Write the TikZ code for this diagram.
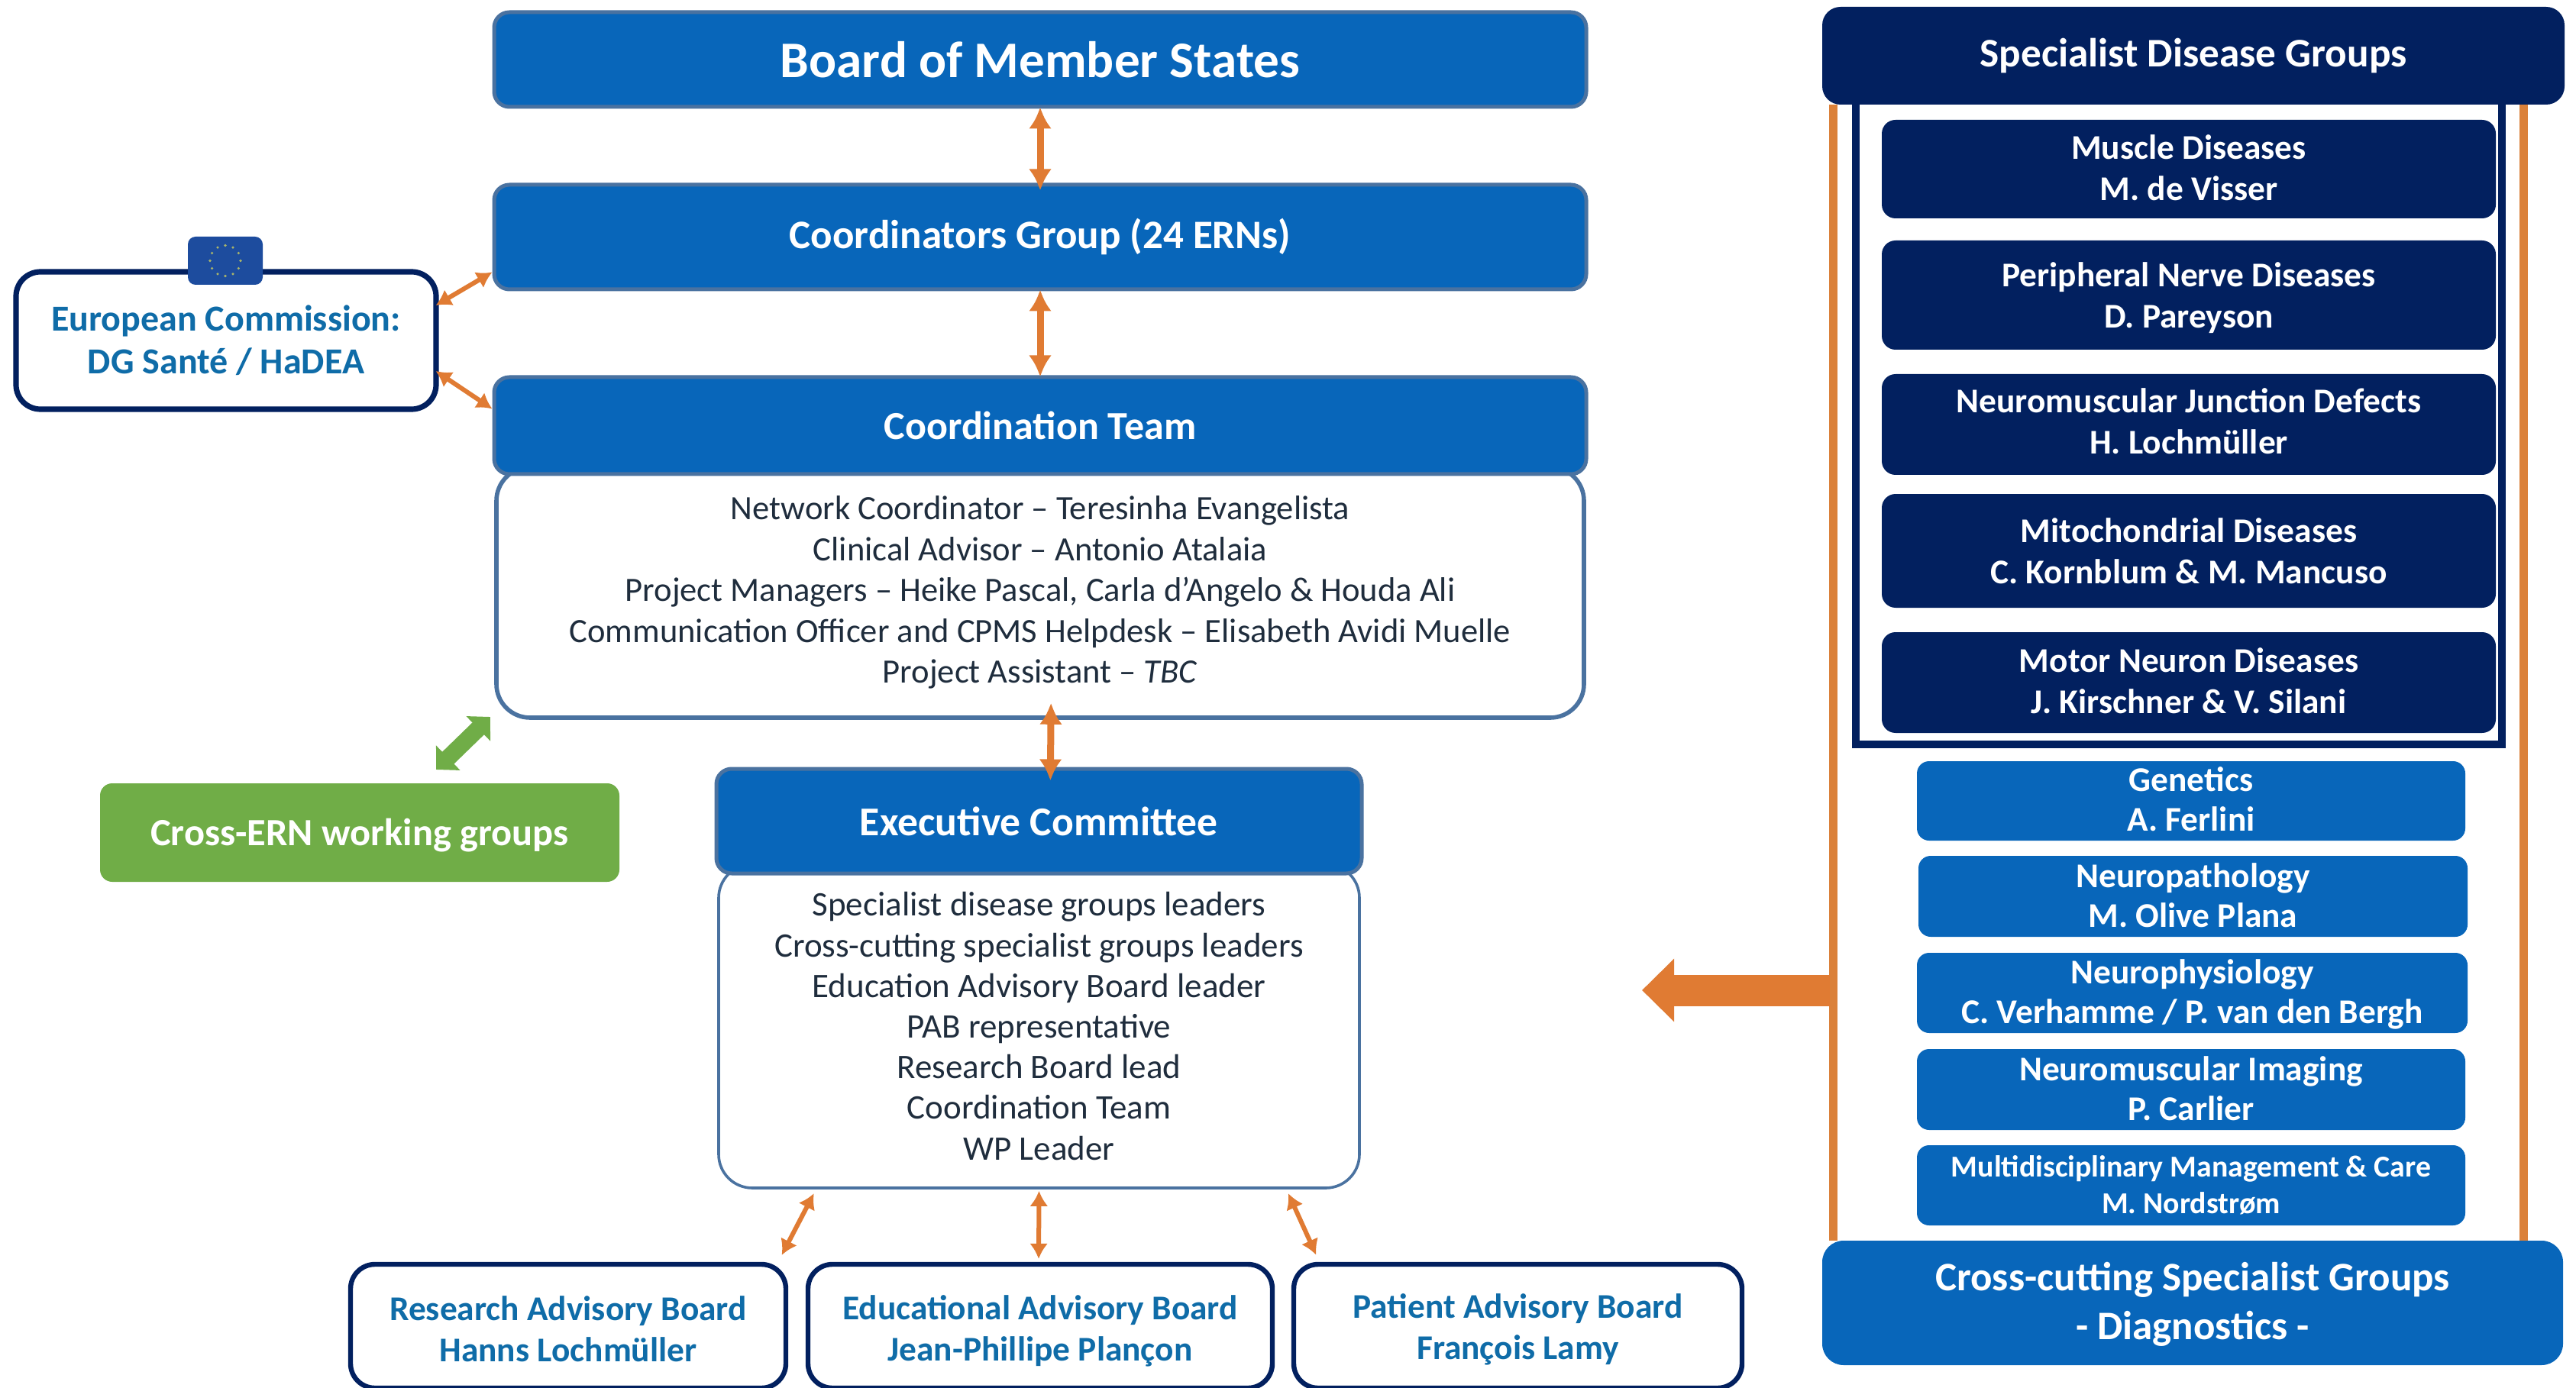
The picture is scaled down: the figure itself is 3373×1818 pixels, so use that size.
\documentclass[tikz,border=0pt]{standalone}
\usepackage{fontspec}
\setmainfont{Carlito}
\usetikzlibrary{arrows.meta,calc}
\definecolor{bluebox}{HTML}{0866BA}
\definecolor{navybox}{HTML}{02205F}
\definecolor{edgeblue}{HTML}{4A72A0}
\definecolor{orangeln}{HTML}{E07B33}
\definecolor{orangebar}{HTML}{DB813A}
\definecolor{greenbox}{HTML}{70AD47}
\definecolor{textdark}{HTML}{1F2D3D}
\definecolor{texttile}{HTML}{0F6CA8}
\definecolor{flagblue}{HTML}{1D4C9E}
\definecolor{flagstar}{HTML}{A9B46A}
\newcommand\hup[1]{\rule{0pt}{#1pt}}
\newcommand\ddn[1]{\rule[-#1pt]{0pt}{0pt}}
\tikzset{
  x=0.5pt,y=-0.5pt,
  bf/.style n args={2}{font=\fontsize{#1}{#2}\selectfont\bfseries},
  rm/.style n args={2}{font=\fontsize{#1}{#2}\selectfont},
  base/.style={inner sep=0pt,align=center,rounded corners=10pt},
  bluehead/.style={base,fill=bluebox,draw=edgeblue,line width=2.5pt,text=white},
  bluetile/.style={base,fill=bluebox,text=white,rounded corners=8pt},
  navytile/.style={base,fill=navybox,text=white,rounded corners=9pt},
  bodybox/.style={base,fill=white,draw=edgeblue,line width=2.8pt,text=textdark,rounded corners=22pt},
  boardbox/.style={base,fill=white,draw=navybox,line width=3.2pt,text=texttile,rounded corners=16pt},
  greentile/.style={base,fill=greenbox,text=white,rounded corners=8pt},
  flagtile/.style={base,fill=flagblue,rounded corners=5pt},
  link/.style={orangeln,line width=4.5pt,{Latex[length=14pt,width=15pt]}-{Latex[length=14pt,width=15pt]}},
  thinlink/.style={orangeln,line width=3pt,{Latex[length=10pt,width=12pt]}-{Latex[length=10pt,width=12pt]}},
  greenlink/.style={greenbox,line width=11pt,{Triangle[length=11pt,width=22pt]}-{Triangle[length=11pt,width=22pt]}},
  bar/.style={orangebar,line width=5.5pt},
}
\newcommand\bx[7]{%
  \pgfmathsetmacro\bw{(#4-#2)*0.5}\pgfmathsetmacro\bh{(#5-#3)*0.5}%
  \node[#6,minimum width=\bw pt,minimum height=\bh pt] (#1) at ({(#2+#4)/2},{(#3+#5)/2}) {#7};}
\begin{document}
\begin{tikzpicture}
\useasboundingbox (0,0) rectangle (3373,1818);
\fill[white] (0,0) rectangle (3373,1818);
% nodes left / centre
\bx{board}{647}{16}{2077}{140}{bluehead,bf={33.6}{40}}{Board of Member States}
\bx{coord}{647}{242}{2077}{379}{bluehead,bf={26.5}{32}}{Coordinators Group (24 ERNs)}
\bx{teambody}{650}{612}{2074}{940}{bodybox,rm={22.3}{26.8}}{Network Coordinator – Teresinha Evangelista\\Clinical Advisor – Antonio Atalaia\\Project Managers – Heike Pascal, Carla d’Angelo \& Houda Ali\\Communication Officer and CPMS Helpdesk – Elisabeth Avidi Muelle\\Project Assistant – \textit{TBC}}
\bx{team}{647}{494}{2077}{621}{bluehead,bf={26}{32}}{Coordination Team}
\bx{execbody}{941}{1132}{1780}{1556}{bodybox,line width=1.8pt,rm={22.5}{26.6}}{Specialist disease groups leaders\\Cross-cutting specialist groups leaders\\Education Advisory Board leader\\PAB representative\\Research Board lead\\Coordination Team\\WP Leader}
\bx{exec}{938}{1007}{1783}{1144}{bluehead,bf={26.8}{32}}{Executive Committee}
\bx{ec}{21}{356}{571}{536}{boardbox,line width=3.6pt,bf={24}{28}}{European Commission:\\DG Santé / HaDEA}
\bx{green}{131}{1026}{811}{1155}{greentile,bf={25.2}{30}}{\hup{21}Cross-ERN working groups}
\bx{research}{459}{1656}{1029}{1818}{boardbox,bf={22.7}{27}}{\hup{20}Research Advisory Board\\Hanns Lochmüller}
\bx{edu}{1058}{1656}{1666}{1818}{boardbox,bf={22.7}{27}}{\hup{22}Educational Advisory Board\\Jean-Phillipe Plançon}
\bx{patient}{1694}{1656}{2281}{1818}{boardbox,bf={22.7}{27}}{\hup{20}Patient Advisory Board\\François Lamy}
% flag
\bx{flag}{246}{310}{344}{373}{flagtile}{}
\foreach \a in {0,30,...,330}{\fill[flagstar] ($(flag.center)+(\a:10pt)$) circle (0.9pt);}
% right column
\bx{sdg}{2386}{9}{3358}{137}{navytile,rounded corners=12pt,bf={26.6}{32}}{Specialist Disease Groups}
\bx{cross}{2386}{1625}{3356}{1788}{bluetile,rounded corners=14pt,bf={26.5}{32}}{\hup{20}Cross-cutting Specialist Groups\\- Diagnostics -}
\draw[bar] ([xshift=-236pt]sdg.south) -- ([xshift=-235.5pt]cross.north);
\draw[bar] ([xshift=216pt]sdg.south) -- ([xshift=216.5pt]cross.north);
\draw[navybox,line width=5pt] ([xshift=-221pt]sdg.south) -- ++(0,838) -- ++(846,0) -- ([xshift=202pt]sdg.south);
\bx{t1}{2464}{157}{3268}{286}{navytile,bf={22.7}{27}}{Muscle Diseases\\M. de Visser\ddn{2}}
\bx{t2}{2464}{315}{3268}{458}{navytile,bf={22.7}{27}}{\hup{19.5}Peripheral Nerve Diseases\\D. Pareyson}
\bx{t3}{2464}{490}{3268}{622}{navytile,bf={22.7}{27}}{Neuromuscular Junction Defects\\H. Lochmüller\ddn{4.3}}
\bx{t4}{2464}{647}{3268}{796}{navytile,bf={22.7}{27}}{Mitochondrial Diseases\\C. Kornblum \& M. Mancuso}
\bx{t5}{2464}{828}{3268}{960}{navytile,bf={22.7}{27}}{Motor Neuron Diseases\\J. Kirschner \& V. Silani\ddn{2}}
\bx{g1}{2510}{997}{3228}{1101}{bluetile,bf={22.7}{26}}{Genetics\\A. Ferlini\ddn{2}}
\bx{g2}{2512}{1121}{3231}{1227}{bluetile,bf={22.7}{26}}{Neuropathology\\M. Olive Plana\ddn{1}}
\bx{g3}{2510}{1248}{3231}{1353}{bluetile,bf={22.7}{26}}{\hup{18}Neurophysiology\\C. Verhamme / P. van den Bergh}
\bx{g4}{2510}{1374}{3228}{1480}{bluetile,bf={22.7}{26}}{Neuromuscular Imaging\\P. Carlier\ddn{1}}
\bx{g5}{2510}{1500}{3228}{1605}{bluetile,bf={19.9}{24}}{Multidisciplinary Management \& Care\\M. Nordstrøm}
% big arrow
\coordinate (barstart) at (2396,1297);
\coordinate (bartip) at (2150,1297);
\draw[orangeln,line width=20.5pt,-{Triangle[length=21pt,width=40pt]}] (barstart) -- (bartip);
% links
\draw[link,shorten <=-1pt,shorten >=-5pt] (board.south) -- (coord.north);
\draw[link,shorten <=-1pt,shorten >=-1pt] (coord.south) -- (team.north);
\draw[link,shorten <=-11pt,shorten >=-9pt] ([xshift=7pt]teambody.south) -- ([xshift=7.5pt]exec.north);
\draw[thinlink] ([xshift=-2pt,yshift=23pt]ec.east) -- ([yshift=-23pt]coord.west);
\draw[thinlink] ([xshift=-2pt,yshift=-20pt]ec.east) -- ([yshift=11pt]team.west);
\draw[thinlink,shorten <=3pt,shorten >=5pt] ([xshift=-146pt]execbody.south) -- ([xshift=137.5pt]research.north);
\draw[thinlink,shorten <=1pt,shorten >=2pt] (execbody.south) -- ([xshift=-1pt]edu.north);
\draw[thinlink,shorten <=3pt,shorten >=5pt] ([xshift=162pt]execbody.south) -- ([xshift=-130pt]patient.north);
\coordinate (gA) at (642,939);
\coordinate (gB) at (571,1008);
\draw[greenlink] (gA) -- (gB);
\end{tikzpicture}
\end{document}
